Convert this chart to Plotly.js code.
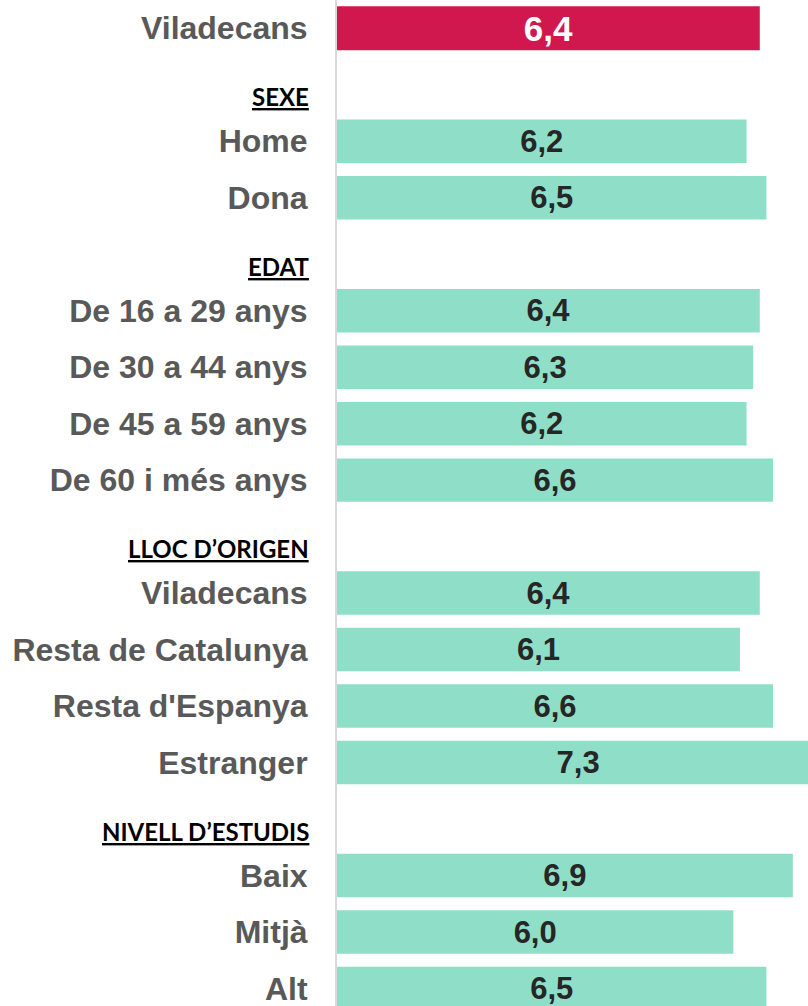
<!DOCTYPE html>
<html>
<head>
<meta charset="utf-8">
<script src="https://cdn.plot.ly/plotly-3.0.1.min.js"></script>
<style>
  html, body { margin: 0; padding: 0; background: #fff; }
  #graph { width: 808px; height: 1006px; }
</style>
</head>
<body>
<div id="graph"></div>
<script>
// data
var totalLabels = ["Viladecans"];
var totalValues = [6.4];

var groupTitles = ["SEXE", "EDAT", "LLOC D\u2019ORIGEN", "NIVELL D\u2019ESTUDIS"];

var sexeLabels = ["Home", "Dona"];
var sexeValues = [6.2, 6.5];

var edatLabels = ["De 16 a 29 anys", "De 30 a 44 anys", "De 45 a 59 anys", "De 60 i més anys"];
var edatValues = [6.4, 6.3, 6.2, 6.6];

var origenLabels = ["Viladecans", "Resta de Catalunya", "Resta d'Espanya", "Estranger"];
var origenValues = [6.4, 6.1, 6.6, 7.3];

var estudisLabels = ["Baix", "Mitjà", "Alt"];
var estudisValues = [6.9, 6.0, 6.5];

function drawGraph() {
    var groupLabels = [sexeLabels, edatLabels, origenLabels, estudisLabels];
    var groupValues = [sexeValues, edatValues, origenValues, estudisValues];

    // one row per bar, one extra row for each group title
    var row = 0;
    var totalRows = [];
    totalLabels.forEach(function () { totalRows.push(row++); });

    var rows = [], vals = [], tickvals = totalRows.slice(), ticktext = totalLabels.slice();
    var headerRows = [];
    groupLabels.forEach(function (labels, g) {
        headerRows.push(row++);
        labels.forEach(function (lab, i) {
            rows.push(row);
            vals.push(groupValues[g][i]);
            tickvals.push(row);
            ticktext.push(lab);
            row++;
        });
    });

    var totalTrace = {
        type: "bar",
        orientation: "h",
        x: totalValues,
        y: totalRows,
        width: 0.78,
        marker: { color: "#D0184F" },
        texttemplate: "%{x:.1f}",
        textposition: "inside",
        insidetextanchor: "middle",
        constraintext: "none",
        textfont: { family: "Liberation Sans Narrow, Arial Narrow, Liberation Sans, sans-serif", size: 35, color: "#ffffff", weight: "bold" },
        hoverinfo: "skip"
    };

    var groupTrace = {
        type: "bar",
        orientation: "h",
        x: vals,
        y: rows,
        width: 0.77,
        marker: { color: "#8FDFC8" },
        texttemplate: "%{x:.1f}",
        textposition: "inside",
        insidetextanchor: "middle",
        constraintext: "none",
        textfont: { family: "Liberation Sans, Arial, sans-serif", size: 31, color: "#262626", weight: "bold" },
        hoverinfo: "skip"
    };

    var annotations = headerRows.map(function (r, i) {
        return {
            xref: "paper", yref: "y",
            x: 0, y: r,
            xanchor: "right", yanchor: "middle",
            xshift: -26, yshift: -12,
            showarrow: false,
            text: "<u>" + groupTitles[i] + "</u>",
            font: { family: "Lato, Open Sans, sans-serif", size: 24, color: "#000000", weight: "bold" }
        };
    });

    var layout = {
        width: 808,
        height: 1006,
        margin: { l: 337, r: 0, t: 0, b: 0, pad: 0 },
        paper_bgcolor: "#ffffff",
        plot_bgcolor: "#ffffff",
        separators: ",.",
        showlegend: false,
        barmode: "overlay",
        xaxis: {
            range: [0, 7.13],
            showgrid: false,
            zeroline: false,
            showticklabels: false,
            showline: false,
            fixedrange: true
        },
        yaxis: {
            range: [row - 0.69, -0.5],
            tickvals: tickvals,
            ticktext: ticktext,
            showgrid: false,
            zeroline: false,
            showline: true,
            linecolor: "#D9D9D9",
            linewidth: 2,
            ticks: "",
            ticklabelstandoff: 21,
            ticklabeloverflow: "allow",
            tickfont: { family: "Liberation Sans, Arial, sans-serif", size: 32, color: "#595959", weight: "bold" },
            fixedrange: true
        },
        annotations: annotations
    };

    Plotly.newPlot("graph", [totalTrace, groupTrace], layout, { displayModeBar: false, staticPlot: true });
}

drawGraph();
</script>
</body>
</html>
